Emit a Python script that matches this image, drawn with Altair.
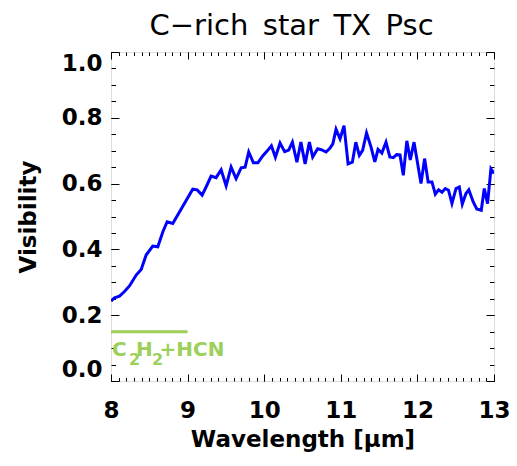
import altair as alt
import pandas as pd

# Spectrally dispersed visibility, 8-13 micron
wavelength = [8.00, 8.046, 8.111, 8.176, 8.241, 8.329, 8.394, 8.459, 8.545, 8.611,
              8.676, 8.733, 8.806, 8.894, 8.981, 9.067, 9.125, 9.190, 9.252, 9.307,
              9.372, 9.438, 9.503, 9.568, 9.633, 9.699, 9.751, 9.798, 9.859, 9.918,
              9.980, 10.035, 10.094, 10.146, 10.207, 10.267, 10.320, 10.368, 10.427, 10.479,
              10.534, 10.590, 10.633, 10.698, 10.746, 10.808, 10.857, 10.896, 10.938, 10.990,
              11.042, 11.095, 11.151, 11.196, 11.242, 11.285, 11.336, 11.395, 11.444, 11.486,
              11.536, 11.590, 11.640, 11.686, 11.729, 11.773, 11.816, 11.862, 11.907, 11.956,
              12.003, 12.047, 12.094, 12.140, 12.190, 12.234, 12.277, 12.321, 12.364, 12.406,
              12.451, 12.504, 12.547, 12.586, 12.634, 12.671, 12.729, 12.775, 12.834, 12.873,
              12.916, 12.960, 13.00]
visibility = [0.243, 0.253, 0.258, 0.272, 0.289, 0.322, 0.339, 0.383, 0.410, 0.408,
              0.453, 0.484, 0.479, 0.514, 0.549, 0.583, 0.581, 0.565, 0.595, 0.623,
              0.618, 0.642, 0.593, 0.650, 0.615, 0.648, 0.650, 0.696, 0.663, 0.663,
              0.684, 0.698, 0.715, 0.680, 0.723, 0.697, 0.702, 0.726, 0.665, 0.726,
              0.660, 0.726, 0.681, 0.706, 0.703, 0.696, 0.707, 0.721, 0.765, 0.736,
              0.776, 0.660, 0.665, 0.726, 0.686, 0.701, 0.754, 0.711, 0.666, 0.704,
              0.693, 0.726, 0.681, 0.679, 0.688, 0.687, 0.625, 0.730, 0.672, 0.726,
              0.661, 0.600, 0.676, 0.605, 0.605, 0.568, 0.581, 0.574, 0.585, 0.580,
              0.540, 0.585, 0.590, 0.538, 0.570, 0.581, 0.544, 0.523, 0.519, 0.585,
              0.539, 0.645, 0.631]

# Molecular absorption band marker
band_start = [8.0]
band_end = [9.0]
band_level = [0.15]

# Axis ticks
x_major = [8, 9, 10, 11, 12, 13]
x_minor = [round(8 + 0.1 * i, 1) for i in range(51)]
y_major = [0.0, 0.2, 0.4, 0.6, 0.8, 1.0]
y_minor = [round(0.05 * i, 2) for i in range(21)]

W, H = 383, 329
FONT = "DejaVu Sans"
GREEN = "#9dd05a"

df = pd.DataFrame({"wavelength": wavelength, "visibility": visibility})
band = pd.DataFrame({"x": band_start, "x2": band_end, "y": band_level})

xs = alt.Scale(domain=[8, 13], nice=False, zero=False)
ys = alt.Scale(domain=[0, 1.0], nice=False, zero=False)

line = alt.Chart(df).mark_line(color="#0000ff", strokeWidth=3, clip=True).encode(
    x=alt.X("wavelength:Q", scale=xs, axis=alt.Axis(
        orient="bottom", values=x_major, format="d", ticks=False, tickSize=0,
        domain=False, grid=False, labelFlush=False, labelFont=FONT,
        labelFontSize=23, labelFontWeight="bold", labelColor="black",
        labelPadding=18, title="Wavelength [μm]", titleFont=FONT,
        titleFontSize=23, titleFontWeight="bold", titleColor="black",
        titlePadding=6)),
    y=alt.Y("visibility:Q", scale=ys, axis=alt.Axis(
        orient="left", values=y_major, format=".1f", ticks=False, tickSize=0,
        domain=False, grid=False, labelFlush=True, labelFont=FONT,
        labelFontSize=23, labelFontWeight="bold", labelColor="black",
        labelPadding=9, title="Visibility", titleFont=FONT, titleFontSize=23,
        titleFontWeight="bold", titleColor="black", titlePadding=21)),
)


def tick_layer(x_orient, x_vals, x_size, y_orient, y_vals, y_size):
    # invisible layer that only carries a pair of inward-pointing tick axes
    return alt.Chart(df).mark_line(opacity=0).encode(
        x=alt.X("wavelength:Q", scale=xs, axis=alt.Axis(
            orient=x_orient, offset=-H, values=x_vals, labels=False,
            domain=False, grid=False, tickSize=x_size, tickColor="black",
            tickWidth=1, title=None)),
        y=alt.Y("visibility:Q", scale=ys, axis=alt.Axis(
            orient=y_orient, offset=-W, values=y_vals, labels=False,
            domain=False, grid=False, tickSize=y_size, tickColor="black",
            tickWidth=1, title=None)),
    )


# bottom + left edges (ticks point inward)
ticks_bl_major = tick_layer("top", x_major, 7, "right", y_major, 8)
ticks_bl_minor = tick_layer("top", x_minor, 3.5, "right", y_minor, 4.5)
# top + right edges
ticks_tr_major = tick_layer("bottom", x_major, 7, "left", y_major, 8)
ticks_tr_minor = tick_layer("bottom", x_minor, 3.5, "left", y_minor, 4.5)

band_rule = alt.Chart(band).mark_rule(color=GREEN, strokeWidth=3).encode(
    x=alt.X("x:Q", scale=xs, axis=None),
    x2="x2:Q",
    y=alt.Y("y:Q", scale=ys, axis=None),
)


def label_piece(text, dx, dy, size):
    return alt.Chart(band).mark_text(
        text=text, align="left", baseline="alphabetic", dx=dx, dy=dy,
        font=FONT, fontSize=size, fontWeight="bold", color=GREEN,
    ).encode(
        x=alt.X("x:Q", scale=xs, axis=None),
        y=alt.Y("y:Q", scale=ys, axis=None),
    )


band_label = [
    label_piece("C", 1, 24, 20),
    label_piece("2", 18, 33, 16),
    label_piece("H", 25, 24, 20),
    label_piece("2", 41, 33, 16),
    label_piece("+HCN", 48.5, 24, 20),
]

chart = alt.layer(
    line, ticks_bl_major, ticks_bl_minor, ticks_tr_major, ticks_tr_minor,
    band_rule, *band_label,
).resolve_axis(
    x="independent", y="independent"
).properties(
    width=W, height=H,
    title=alt.TitleParams("C−rich\u2002star\u2002TX\u2002Psc", font=FONT,
                          fontSize=29, fontWeight="normal", color="black",
                          anchor="middle", dx=-11, offset=11),
    autosize=alt.AutoSizeParams(type="none"),
    padding={"left": 111, "top": 52, "right": 23, "bottom": 85},
).configure_view(
    stroke="black", strokeWidth=1
).configure(background="white")

chart.save("out.html", embed_options={"renderer": "svg", "actions": False})
